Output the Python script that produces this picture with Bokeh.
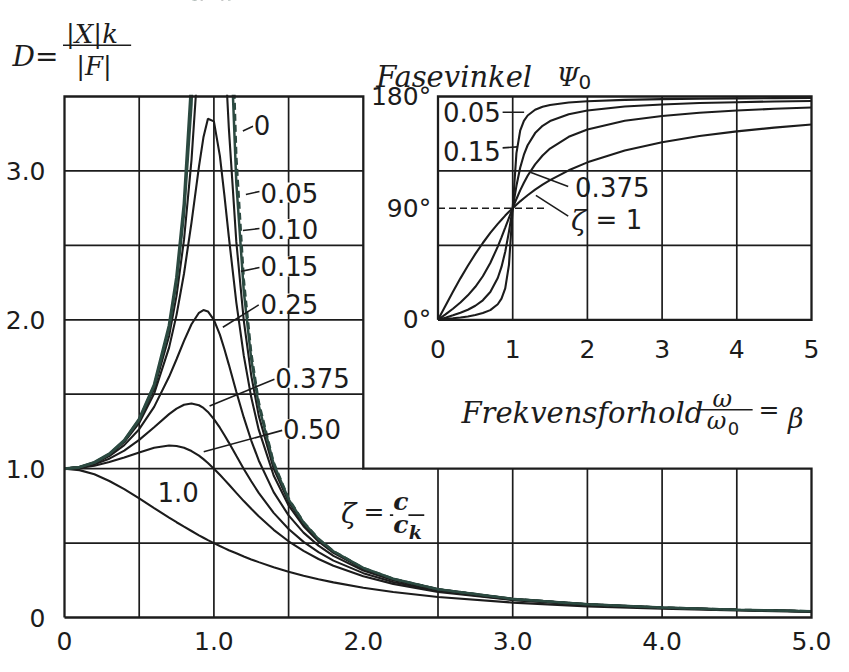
import math
from bokeh.plotting import figure
from bokeh.models import Range1d, FixedTicker, PrintfTickFormatter, Label, BoxAnnotation
from bokeh.embed import file_html
from bokeh.resources import INLINE

# ---------------- data ----------------
BETA = [0, 0.1, 0.2, 0.3, 0.4, 0.5, 0.6, 0.7, 0.75, 0.8, 0.85, 0.9, 0.93, 0.96, 1.0,
        1.04, 1.07, 1.1, 1.15, 1.2, 1.25, 1.3, 1.4, 1.5, 1.6, 1.7, 1.8, 2.0, 2.2, 2.5,
        3.0, 3.5, 4.0, 4.5, 5.0]

D_ZETA_0 = [1.0, 1.010, 1.042, 1.099, 1.190, 1.333, 1.563, 1.961, 2.286, 2.778, 3.604, 5.263,
            7.402, 12.76, float("nan"), 12.25, 6.901, 4.762, 3.101, 2.273, 1.778, 1.449, 1.042,
            0.800, 0.641, 0.529, 0.446, 0.333, 0.260, 0.190, 0.125, 0.089, 0.067, 0.052, 0.042]
D_ZETA_005 = [1.0, 1.010, 1.041, 1.098, 1.189, 1.330, 1.556, 1.943, 2.253, 2.712, 3.446, 4.757,
              6.097, 8.068, 10.0, 7.565, 5.552, 4.218, 2.921, 2.193, 1.735, 1.424, 1.031,
              0.794, 0.638, 0.527, 0.445, 0.333, 0.260, 0.190, 0.125, 0.089, 0.067, 0.052, 0.042]
D_ZETA_010 = [1.0, 1.010, 1.041, 1.097, 1.185, 1.322, 1.536, 1.891, 2.162, 2.538, 3.073, 3.821,
              4.350, 4.822, 5.0, 4.476, 3.869, 3.288, 2.525, 1.995, 1.625, 1.356, 1.0,
              0.778, 0.628, 0.521, 0.441, 0.330, 0.259, 0.190, 0.125, 0.089, 0.067, 0.052, 0.042]
D_ZETA_015 = [1.0, 1.010, 1.040, 1.094, 1.179, 1.307, 1.504, 1.813, 2.033, 2.311, 2.653, 3.029,
              3.226, 3.350, 3.333, 3.101, 2.839, 2.557, 2.117, 1.759, 1.479, 1.262, 0.954,
              0.753, 0.613, 0.511, 0.434, 0.327, 0.257, 0.189, 0.124, 0.089, 0.067, 0.052, 0.042]
D_ZETA_025 = [1.0, 1.009, 1.036, 1.084, 1.158, 1.265, 1.415, 1.617, 1.735, 1.858, 1.970, 2.047,
              2.065, 2.056, 2.0, 1.900, 1.804, 1.699, 1.517, 1.344, 1.189, 1.055, 0.842,
              0.686, 0.570, 0.483, 0.414, 0.316, 0.250, 0.185, 0.123, 0.088, 0.066, 0.052, 0.041]
D_ZETA_0375 = [1.0, 1.007, 1.029, 1.067, 1.121, 1.193, 1.278, 1.366, 1.403, 1.429, 1.438, 1.426,
               1.408, 1.381, 1.333, 1.275, 1.226, 1.175, 1.086, 0.998, 0.915, 0.837, 0.703,
               0.595, 0.508, 0.439, 0.382, 0.298, 0.239, 0.179, 0.120, 0.087, 0.065, 0.051, 0.041]
D_ZETA_050 = [1.0, 1.005, 1.020, 1.044, 1.075, 1.109, 1.140, 1.155, 1.152, 1.140, 1.118, 1.087,
              1.064, 1.038, 1.0, 0.959, 0.926, 0.893, 0.837, 0.782, 0.730, 0.680, 0.589,
              0.512, 0.448, 0.393, 0.348, 0.277, 0.226, 0.172, 0.117, 0.085, 0.064, 0.051, 0.041]
D_ZETA_1 = [1.0, 0.990, 0.962, 0.917, 0.862, 0.800, 0.735, 0.671, 0.640, 0.610, 0.581, 0.552,
            0.536, 0.520, 0.500, 0.480, 0.466, 0.452, 0.431, 0.410, 0.390, 0.372, 0.338,
            0.308, 0.281, 0.257, 0.236, 0.200, 0.171, 0.138, 0.100, 0.075, 0.059, 0.047, 0.038]

CURVE_LABELS = ["0", "0.05", "0.10", "0.15", "0.25", "0.375", "0.50", "1.0"]

PHASE_BETA = [0, 0.1, 0.2, 0.3, 0.4, 0.5, 0.6, 0.7, 0.8, 0.85, 0.9, 0.95, 1.0, 1.05, 1.1,
              1.15, 1.2, 1.3, 1.4, 1.5, 1.75, 2.0, 2.5, 3.0, 3.5, 4.0, 4.5, 5.0]
PSI_ZETA_005 = [0, 0.6, 1.2, 1.9, 2.7, 3.8, 5.4, 7.8, 12.5, 17.0, 25.3, 44.3, 90, 134.3, 152.4,
                160.4, 164.7, 169.3, 171.7, 173.2, 175.2, 176.2, 177.3, 177.9, 178.2, 178.5,
                178.7, 178.8]
PSI_ZETA_015 = [0, 1.7, 3.6, 5.7, 8.1, 11.3, 15.7, 22.4, 33.7, 42.6, 54.9, 71.1, 90, 108.0, 122.5,
                133.1, 140.7, 150.5, 156.4, 160.2, 165.7, 168.7, 171.9, 173.6, 174.7, 175.4,
                176.0, 176.4]
PSI_ZETA_0375 = [0, 4.3, 8.9, 13.9, 19.7, 26.6, 35.1, 45.8, 59.0, 66.5, 74.3, 82.2, 90, 97.4,
                 104.3, 110.5, 116.1, 125.3, 132.4, 138.0, 147.5, 153.4, 160.4, 164.3, 166.9,
                 168.7, 170.1, 171.1]
PSI_ZETA_1 = [0, 11.4, 22.6, 33.4, 43.6, 53.1, 61.9, 70.0, 77.3, 80.7, 84.0, 87.1, 90, 92.8,
              95.5, 98.0, 100.4, 104.9, 108.9, 112.6, 120.5, 126.9, 136.4, 143.1, 148.1, 151.9,
              154.9, 157.4]
PHASE_LABELS = ["0.05", "0.15", "0.375", "ζ = 1"]

MAIN_X_TICKS = [0, 1, 2, 3, 4, 5]
MAIN_Y_TICKS = [0, 1, 2, 3]
GRID_X = [0.5, 1.0, 1.5, 2.5, 3.0, 3.5, 4.0, 4.5]
GRID_Y = [0.5, 1.0, 1.5, 2.0, 2.5, 3.0]
INSET_X_TICKS = [0, 1, 2, 3, 4, 5]
INSET_Y_TICKS = [0, 90, 180]
INSET_Y_TICK_LABELS = ["0°", "90°", "180°"]
INSET_GRID_X = [1, 2, 3, 4]
INSET_GRID_Y = [60, 120]

# ---------------- layout / styling ----------------
INK = "#1c1c1c"
GREEN = "#2c4a41"
NUM_FONT = "DejaVu Sans"
SERIF = "DejaVu Serif"

FIG_W, FIG_H = 833, 656
X_ZERO_PX, X_FIVE_PX = 64, 811      # canvas px of beta = 0 and beta = 5
Y_ZERO_PX, Y_TOP_PX = 617, 96       # canvas px (from top) of D = 0 and D = 3.5
SX = (X_FIVE_PX - X_ZERO_PX) / 5.0
SY = (Y_ZERO_PX - Y_TOP_PX) / 3.5
X0, X1 = -X_ZERO_PX / SX, (FIG_W - X_ZERO_PX) / SX
Y0, Y1 = -(FIG_H - Y_ZERO_PX) / SY, Y_ZERO_PX / SY

p = figure(width=FIG_W, height=FIG_H, title=None,
           x_range=Range1d(X0, X1), y_range=Range1d(Y0, Y1),
           output_backend="svg", toolbar_location=None,
           min_border_left=0, min_border_right=0, min_border_top=0, min_border_bottom=0)
p.outline_line_color = None
p.xgrid.visible = False
p.ygrid.visible = False
p.background_fill_color = "white"
p.border_fill_color = "white"
# the phase inset occupies main [2.5, 5] x [2.0, 3.5]
p.extra_x_ranges = {"inset": Range1d(2 * (X0 - 2.5), 2 * (X1 - 2.5))}
p.extra_y_ranges = {"inset": Range1d(120 * (Y0 - 2.0), 120 * (Y1 - 2.0))}

for ax in (p.xaxis[0], p.yaxis[0]):
    ax.fixed_location = 0
    ax.axis_line_color = None
    ax.major_tick_line_color = None
    ax.minor_tick_line_color = None
    ax.major_label_text_font = NUM_FONT
    ax.major_label_text_font_size = "25px"
    ax.major_label_text_color = INK
    ax.formatter = PrintfTickFormatter(format="%.1f")
    ax.major_label_overrides = {0: "0"}
p.xaxis[0].ticker = FixedTicker(ticks=MAIN_X_TICKS)
p.yaxis[0].ticker = FixedTicker(ticks=MAIN_Y_TICKS)
p.xaxis[0].major_label_standoff = 8
p.yaxis[0].major_label_standoff = 13

GRID_W = 1.7
FRAME_W = 2.3

# ---------------- main grid ----------------
vx = GRID_X
vtop = [3.5 if g < 2 else 1.0 for g in GRID_X]
p.segment(x0=vx, y0=[0] * len(vx), x1=vx, y1=vtop, line_color=INK, line_width=GRID_W)
hy = GRID_Y
hright = [5.0 if g < 1 else 2.0 for g in GRID_Y]
p.segment(x0=[0] * len(hy), y0=hy, x1=hright, y1=hy, line_color=INK, line_width=GRID_W)

# ---------------- main curves ----------------
for ys in (D_ZETA_010, D_ZETA_015, D_ZETA_025, D_ZETA_0375, D_ZETA_050, D_ZETA_1):
    p.line(BETA, ys, line_color=INK, line_width=2.1)
p.line(BETA, D_ZETA_005, line_color=GREEN, line_width=2.5)
gap = next(i for i, v in enumerate(D_ZETA_0) if v != v)
p.line(BETA[:gap], D_ZETA_0[:gap], line_color=GREEN, line_width=3.0)
p.line(BETA[gap + 1:], D_ZETA_0[gap + 1:], line_color=GREEN, line_width=2.4, line_dash="7 4")

# ---------------- inset (phase angle) ----------------
ik = dict(x_range_name="inset", y_range_name="inset")
p.segment(x0=INSET_GRID_X, y0=[0] * 4, x1=INSET_GRID_X, y1=[180] * 4, line_color=INK,
          line_width=GRID_W, **ik)
p.segment(x0=[0] * 2, y0=INSET_GRID_Y, x1=[5] * 2, y1=INSET_GRID_Y, line_color=INK,
          line_width=GRID_W, **ik)
p.line([0, 5, 5, 0, 0], [0, 0, 180, 180, 0], line_color=INK, line_width=FRAME_W,
       line_join="miter", **ik)
p.line([0, 1.455], [90, 90], line_color=INK, line_width=1.5, line_dash="7 4", **ik)
for ys in (PSI_ZETA_005, PSI_ZETA_015, PSI_ZETA_0375, PSI_ZETA_1):
    p.line(PHASE_BETA, ys, line_color=INK, line_width=2.1, **ik)

# ---------------- leaders ----------------
main_leaders = [((1.194, 3.268), (1.262, 3.300)),
                ((1.214, 2.842), (1.305, 2.862)),
                ((1.194, 2.600), (1.305, 2.613)),
                ((1.181, 2.325), (1.305, 2.351)),
                ((1.060, 1.950), (1.300, 2.100)),
                ((0.971, 1.421), (1.405, 1.600)),
                ((0.932, 1.113), (1.457, 1.257))]
p.segment(x0=[a[0] for a, b in main_leaders], y0=[a[1] for a, b in main_leaders],
          x1=[b[0] for a, b in main_leaders], y1=[b[1] for a, b in main_leaders],
          line_color=INK, line_width=1.6)
inset_leaders = [((0.865, 167.3), (1.153, 167.3)),
                 ((0.865, 138.6), (1.060, 139.4)),
                 ((1.743, 107.5), (1.245, 118.7)),
                 ((1.743, 83.6), (1.310, 100.3))]
p.segment(x0=[a[0] for a, b in inset_leaders], y0=[a[1] for a, b in inset_leaders],
          x1=[b[0] for a, b in inset_leaders], y1=[b[1] for a, b in inset_leaders],
          line_color=INK, line_width=1.6, **ik)

# main frame (L-shaped)
p.line([0, 5, 5, 2, 2, 0, 0], [0, 0, 1, 1, 3.5, 3.5, 0], line_color=INK, line_width=FRAME_W,
       line_join="miter")

# white mask above the main frame top (curves running past D = 3.5)
p.add_layout(BoxAnnotation(left=-0.06, right=1.99, bottom=3.512, top=Y1 + 2.0,
                           fill_color="white", fill_alpha=1.0, line_color=None,
                           level="overlay"))


# ---------------- texts ----------------
def label(x, y, text, size=25, font=NUM_FONT, style="normal", align="left",
          baseline="middle", inset=False, bg=None, level="annotation"):
    kw = dict(x_range_name="inset", y_range_name="inset") if inset else {}
    lab = Label(x=x, y=y, text=text, text_font=font, text_font_size=f"{size}px",
                text_font_style=style, text_align=align, text_baseline=baseline,
                text_color=INK, level=level, **kw)
    if bg:
        lab.background_fill_color = bg
    p.add_layout(lab)


curve_label_pos = [(1.266, 3.307), (1.312, 2.855), (1.312, 2.610), (1.312, 2.358),
                   (1.312, 2.109), (1.411, 1.611), (1.463, 1.264)]
for (x, y), t in zip(curve_label_pos, CURVE_LABELS[:7]):
    label(x, y, t, size=26, bg="white")
label(0.761, 0.845, CURVE_LABELS[7], size=26, align="center")

inset_label_pos = [(0.066, 167.3), (0.066, 136.2), (1.835, 106.7), (1.78, 80.4)]
for (x, y), t in zip(inset_label_pos, PHASE_LABELS):
    if t.startswith("ζ"):
        label(x, y, "ζ", size=28, font=SERIF, style="italic", inset=True)
        label(x + 0.33, y, "= 1", size=26, inset=True)
    else:
        label(x, y, t, size=26, inset=True)

for v, t in zip(INSET_Y_TICKS, INSET_Y_TICK_LABELS):
    label(-0.092, v, t, align="right", inset=True, level="overlay")
for v in INSET_X_TICKS:
    label(v, -23.9, str(v), align="center", inset=True)

# y-axis heading D = |X|k / |F|
label(-0.348, 3.766, "D=", size=28, font=SERIF, style="italic", level="overlay")
label(0.184, 3.923, "|X|k", size=26, font=SERIF, style="italic", align="center", level="overlay")
label(0.197, 3.707, "|F|", size=26, font=SERIF, style="italic", align="center", level="overlay")
p.add_layout(BoxAnnotation(left=-0.010, right=0.446, bottom=3.839, top=3.849,
                           fill_color=INK, fill_alpha=1.0, line_color=None, level="overlay"))

# inset heading
label(2.087, 3.628, "Fasevinkel", size=29, font=SERIF, style="italic", baseline="alphabetic",
      level="overlay")
label(3.294, 3.628, "Ψ", size=26, font=SERIF, style="italic", baseline="alphabetic",
      level="overlay")
label(3.440, 3.595, "0", size=20, baseline="alphabetic", level="overlay")

# frequency ratio caption
label(2.657, 1.375, "Frekvensforhold", size=29, font=SERIF, style="italic", baseline="alphabetic")
label(4.403, 1.467, "ω", size=24, font=SERIF, style="italic", align="center")
p.segment(x0=[4.252], y0=[1.395], x1=[4.606], y1=[1.395], line_color=INK, line_width=1.5)
label(4.364, 1.318, "ω", size=24, font=SERIF, style="italic", align="center")
label(4.440, 1.270, "0", size=18)
label(4.646, 1.395, "=", size=25)
label(4.843, 1.336, "β", size=27, font=SERIF, style="italic", baseline="alphabetic")

# damping ratio definition
label(1.850, 0.700, "ζ", size=28, font=SERIF, style="italic", bg="white")
label(2.001, 0.714, "=", size=25, bg="white")
label(2.251, 0.779, "c", size=25, font=SERIF, style="bold italic", align="center", bg="white")
p.segment(x0=[2.178], y0=[0.688], x1=[2.408], y1=[0.688], line_color=INK, line_width=1.6)
label(2.251, 0.625, "c", size=25, font=SERIF, style="bold italic", align="center")
label(2.305, 0.576, "k", size=19, font=SERIF, style="bold italic")

open("out.html", "w").write(file_html(p, INLINE))
